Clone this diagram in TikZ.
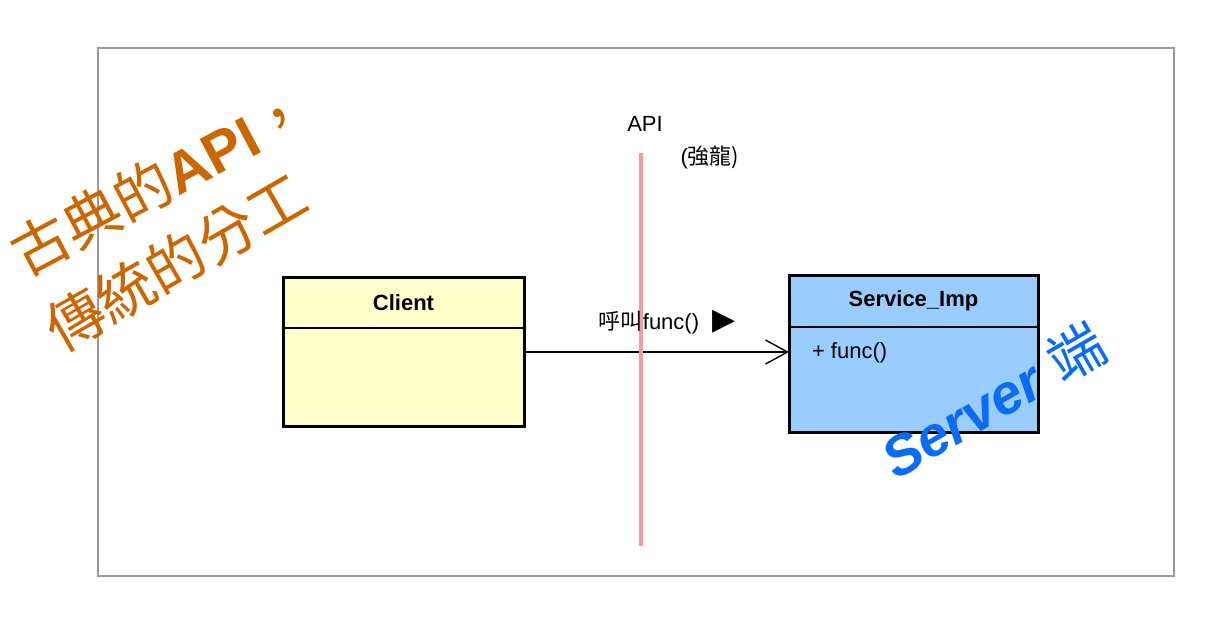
\documentclass[tikz,border=0pt]{standalone}
\usepackage{fontspec}
\setmainfont{Liberation Sans}
\newfontfamily\cjk{Noto Sans CJK TC}
\newfontfamily\symfont{DejaVu Sans}
\usepackage{xcolor}
\usetikzlibrary{calc,arrows.meta,positioning}
\definecolor{clientfill}{HTML}{FFFFCC}
\definecolor{servfill}{HTML}{99CCFF}
\definecolor{apipink}{HTML}{F59C9C}
\definecolor{noteorange}{HTML}{CC6600}
\definecolor{noteblue}{HTML}{0A6CF5}
\tikzset{
  head/.style={draw, line width=0.7pt, font=\fontsize{11}{13}\selectfont\bfseries, 
  text centered},
  body/.style={draw, line width=0.7pt},
  frameline/.style={draw=black, line width=1.5pt},
  lbl/.style={font=\fontsize{11}{13}\selectfont, inner sep=1pt},
  apiline/.style={draw=apipink, line width=2.4pt},
  call/.style={-{Straight Barb[length=11pt,width=12pt]}, line width=0.7pt},
  note/.style={inner sep=0pt}
}
\begin{document}
\begin{tikzpicture}[x=0.5pt,y=-0.5pt,outer sep=0pt]
			\useasboundingbox (0,0) rectangle (1224,622);
			\draw[black!40, line width=0.6pt] (98,48) rectangle (1174,576);
			% the API line
			\coordinate (apitop) at (641,153);
			\coordinate (apibot) at (641,546);
			\node (api) [lbl] at (645,124) {API};
			\node (strong) [lbl] at (710,157) {(\cjk 強龍)};
			% client class
			\node (chead) [head,anchor=north,fill=clientfill,minimum width=120.5pt,
			minimum height=25.5pt] at (403.5,277) {Client};
			\node (cbody) [body,anchor=north,fill=clientfill,minimum width=120.5pt,
			minimum height=49pt] at (chead.south) {};
			\draw[frameline] (chead.north west) rectangle (cbody.south east);
			% server class
			\node (shead) [head,anchor=north,fill=servfill,minimum width=124.5pt,
			minimum height=26pt] at (913.5,275) {Service\_Imp};
			\node (sbody) [body,anchor=north,fill=servfill,minimum width=124.5pt,
			minimum height=52.5pt] at (shead.south) {};
			\draw[frameline] (shead.north west) rectangle (sbody.south east);
			\node (sfunc) [lbl,anchor=west] at ($(sbody.north west)+(21,26)$) {+ func()};
			% the call
			\coordinate (callend) at ($(sbody.north west)+(0,25)$);
			\path (cbody.east |- callend) edge [call] (callend);
			\path (apitop) edge [apiline] (apibot);
			\node (calltxt) [lbl] at (649,323) {{\cjk 呼叫}func()};
			\node (calldir) [inner sep=0pt,font=\fontsize{15}{15}\selectfont\symfont] 
			at (724,322) {▶};
			% notes
			\node (title1) [note,rotate=28,text=noteorange,font=\fontsize{29}{29}\selectfont] 
			at (160,181) {{\cjk 古典的}\textbf{API}{\cjk ，}};
			\node (title2) [note,rotate=30,text=noteorange,font=\fontsize{29}{29}\selectfont\cjk] 
			at (176,262) {傳統的分工};
			\node (servnote) [note,rotate=30,text=noteblue,font=\fontsize{28}{28}\selectfont] 
			at (993,400) {\textbf{\textit{Server}} {\cjk 端}};
\end{tikzpicture}
\end{document}
